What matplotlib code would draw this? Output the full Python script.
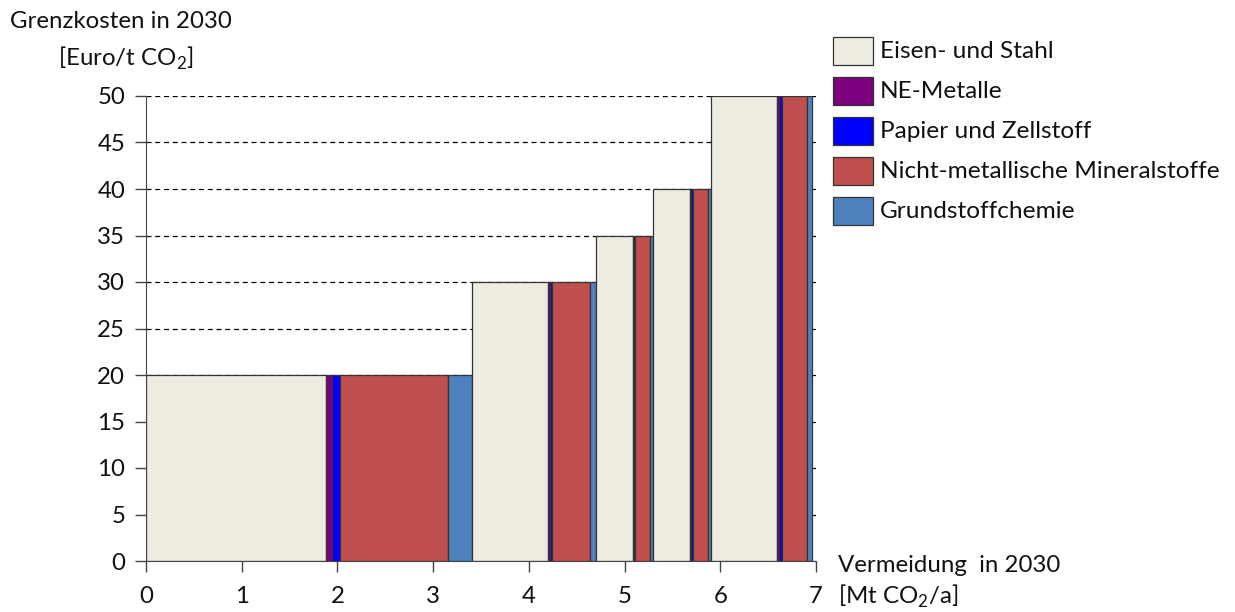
import matplotlib
matplotlib.use("Agg")
import matplotlib.pyplot as plt
from matplotlib.patches import Rectangle

# Grenzkosten-Stufen (Euro/t CO2) und Vermeidungsbeitrag je Sektor (Mt CO2/a)
costs = [20, 30, 35, 40, 50]
sectors = ["Eisen- und Stahl", "NE-Metalle", "Papier und Zellstoff",
           "Nicht-metallische Mineralstoffe", "Grundstoffchemie"]
colors = ["#EEECE1", "#7F007F", "#0000FF", "#C0504D", "#4F81BD"]
w_eisen = [1.88, 0.79, 0.39, 0.38, 0.69]
w_ne = [0.06, 0.02, 0.01, 0.01, 0.02]
w_papier = [0.09, 0.02, 0.01, 0.02, 0.03]
w_mineral = [1.13, 0.40, 0.16, 0.16, 0.27]
w_chemie = [0.25, 0.06, 0.03, 0.03, 0.05]
widths = [w_eisen, w_ne, w_papier, w_mineral, w_chemie]

FONT = ["Lato", "DejaVu Sans"]
plt.rcParams["font.family"] = FONT
plt.rcParams["mathtext.fontset"] = "custom"
plt.rcParams["mathtext.rm"] = "Lato"

TXT = "#111111"
FS = 17.3

fig = plt.figure(figsize=(12.35, 6.12), dpi=100)
ax = fig.add_axes([146 / 1235, 51 / 612, 670 / 1235, 465 / 612])

# Treppenkurve: je Kostenstufe die Sektoren nebeneinander
x = 0.0
for i, c in enumerate(costs):
    for s in range(len(sectors)):
        w = widths[s][i]
        ax.bar(x, c, width=w, align="edge", color=colors[s],
               edgecolor="#333333", linewidth=0.9, zorder=2)
        x += w

ax.set_xlim(0, 7)
ax.set_ylim(0, 50)
ax.set_yticks(range(0, 51, 5))
ax.set_xticks(range(0, 8))
ax.yaxis.grid(True, color="black", linestyle=(0, (4, 3)), linewidth=0.9, zorder=0)
ax.set_axisbelow(True)
for side in ["top", "right"]:
    ax.spines[side].set_visible(False)
for side in ["left", "bottom"]:
    ax.spines[side].set_color("#444444")
ax.tick_params(axis="both", direction="out", length=8, width=1, color="#444444",
               labelsize=FS, labelcolor=TXT)
ax.tick_params(axis="x", pad=10)
ax.tick_params(axis="y", pad=7)

# Achsentitel
fig.text(10 / 1235, 1 - 22 / 612, "Grenzkosten in 2030", fontsize=FS,
         ha="left", va="center", color=TXT)
fig.text(58 / 1235, 1 - 58 / 612, r"[Euro/t CO$_2$]", fontsize=FS,
         ha="left", va="center", color=TXT)
fig.text(838 / 1235, 1 - 565 / 612, "Vermeidung  in 2030", fontsize=FS,
         ha="left", va="center", color=TXT)
fig.text(838 / 1235, 1 - 596 / 612, r"[Mt CO$_2$/a]", fontsize=FS,
         ha="left", va="center", color=TXT)

# Legende
for k, (name, col) in enumerate(zip(sectors, colors)):
    yc = 51 + k * 40
    fig.add_artist(Rectangle((833 / 1235, 1 - (yc + 14) / 612), 40 / 1235, 28 / 612,
                             transform=fig.transFigure, facecolor=col,
                             edgecolor="#333333", linewidth=0.9))
    fig.text(880 / 1235, 1 - yc / 612, name, fontsize=17.6, ha="left", va="center",
             color=TXT)

fig.savefig("out.png", dpi=100)
